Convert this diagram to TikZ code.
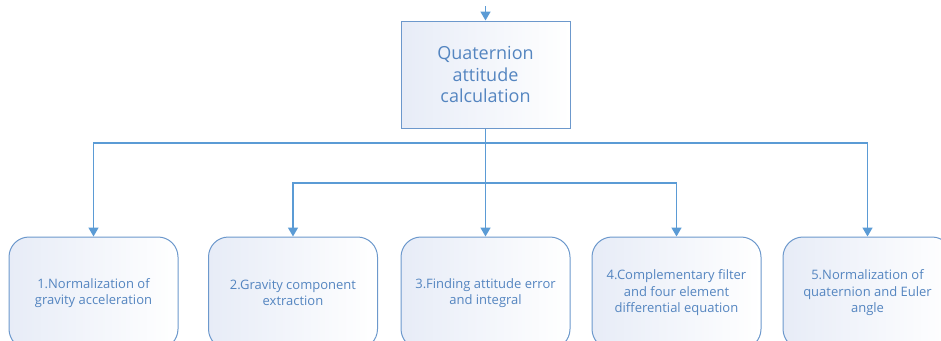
\documentclass[tikz,border=0pt]{standalone}
\usepackage{fontspec}
\setmainfont{Open Sans}
\usetikzlibrary{arrows.meta}
\definecolor{linec}{RGB}{91,155,213}
\definecolor{boxc}{RGB}{108,152,204}
\definecolor{textc}{RGB}{84,133,192}
\definecolor{fillc}{RGB}{231,236,247}
\tikzset{
  conn/.style={draw=linec, line width=1.6pt, -{Triangle[width=10pt,length=9pt]}},
  topbox/.style={draw=boxc, line width=1pt, left color=fillc, right color=white,
    minimum width=169pt, minimum height=107pt, align=center, text=textc,
    font=\fontsize{18}{21.5}\selectfont, inner sep=0pt},
  stepbox/.style={draw=boxc, line width=1pt, rounded corners=20pt, left color=fillc, right color=white,
    minimum width=169pt, minimum height=112pt, align=center, text=textc,
    font=\fontsize{13}{16.5}\selectfont, inner sep=0pt}
}
\begin{document}
\begin{tikzpicture}[x=1pt,y=-1pt]
\useasboundingbox (0,0) rectangle (941,340);
\clip (0,0) rectangle (941,340);
\node[topbox] (q) at (485.5,74.5) {Quaternion\\attitude\\calculation};
\node[stepbox] (b1) at (93.5,293) {1.Normalization of\\gravity acceleration};
\node[stepbox] (b2) at (293,293) {2.Gravity component\\extraction};
\node[stepbox] (b3) at (485.5,293) {3.Finding attitude error\\and integral};
\node[stepbox] (b4) at (676.5,293) {4.Complementary filter\\and four element\\differential equation};
\node[stepbox] (b5) at (867.5,293) {5.Normalization of\\quaternion and Euler\\angle};
\coordinate (in) at (485.5,6);
\coordinate (j1) at (485.5,143);
\coordinate (j2) at (485.5,183);
\draw[conn] (in) -- (q.north);
\draw[conn] (q.south) -- (b3.north);
\draw[conn] (j1) -| (b1.north);
\draw[conn] (j1) -| (b5.north);
\draw[conn] (j2) -| (b2.north);
\draw[conn] (j2) -| (b4.north);
\end{tikzpicture}
\end{document}
